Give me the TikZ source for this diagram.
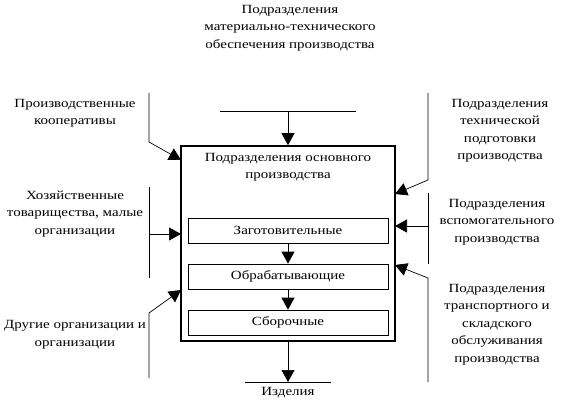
\documentclass[tikz,border=0pt]{standalone}
\usepackage{fontspec}
\setmainfont{Liberation Serif}[FakeStretch=1.2]
\usetikzlibrary{arrows.meta}
\begin{document}
\begin{tikzpicture}[x=1pt, y=-1pt,
  every node/.style={font=\fontsize{12.5}{17.5}\selectfont, align=center, inner sep=0pt},
  mainbox/.style={draw, line width=1.6pt, minimum width=214pt, minimum height=195pt},
  unit/.style={draw, line width=0.7pt, minimum width=200pt, minimum height=25pt},
  arrow/.style={-{Triangle[length=12pt,width=13pt]}, line width=0.7pt},
  bar/.style={line width=0.7pt}
]
\useasboundingbox (0,0) rectangle (569,404);
% main unit with its departments
\node[mainbox] (main) at (288,243.5) {};
\node (maintitle) at (288,167) {Подразделения основного\\производства};
\node[unit] (prep) at (288,230.5) {Заготовительные};
\node[unit] (proc) at (288,276.5) {Обрабатывающие};
\node[unit] (asm) at (288,322.5) {Сборочные};
\draw[arrow] (prep) -- (proc);
\draw[arrow] (proc) -- (asm);
% supply from above
\node (supply) at (290,28) {Подразделения\\материально-технического\\обеспечения производства};
\coordinate (supL) at (220,111);
\coordinate (supR) at (356,111);
\coordinate (supM) at (288,111);
\draw[bar] (supL) -- (supR);
\draw[arrow] (supM) -- (main.north);
% output below
\coordinate (outL) at (245,382);
\coordinate (outR) at (331,382);
\coordinate (outM) at (288,382);
\draw[bar] (outL) -- (outR);
\draw[arrow] (main.south) -- (outM);
\node (product) at (288,393) {Изделия};
% left side
\node (coop) at (75,113) {Производственные\\кооперативы};
\coordinate (coopT) at (149,93);
\coordinate (coopB) at (149,142);
\coordinate (coopIn) at (181,160);
\draw[arrow] (coopT) -- (coopB) -- (coopIn);
\node (partner) at (75,214) {Хозяйственные\\товарищества, малые\\организации};
\coordinate (partT) at (149,187);
\coordinate (partB) at (149,278);
\coordinate (partM) at (149,234);
\coordinate (partIn) at (181,234);
\draw[bar] (partT) -- (partB);
\draw[arrow] (partM) -- (partIn);
\node (other) at (75,334.5) {Другие организации и\\организации};
\coordinate (othB) at (149,378);
\coordinate (othT) at (149,313);
\coordinate (othIn) at (181,290);
\draw[arrow] (othB) -- (othT) -- (othIn);
% right side
\node (tech) at (500,130.5) {Подразделения\\технической\\подготовки\\производства};
\coordinate (techT) at (428,93);
\coordinate (techB) at (428,180);
\coordinate (techIn) at (395,194);
\draw[arrow] (techT) -- (techB) -- (techIn);
\node (aux) at (497,222) {Подразделения\\вспомогательного\\производства};
\coordinate (auxT) at (428,193);
\coordinate (auxB) at (428,264);
\coordinate (auxM) at (428,226);
\coordinate (auxIn) at (395,226);
\draw[bar] (auxT) -- (auxB);
\draw[arrow] (auxM) -- (auxIn);
\node (trans) at (497,324.5) {Подразделения\\транспортного и\\складского\\обслуживания\\производства};
\coordinate (trB) at (428,382);
\coordinate (trT) at (428,278);
\coordinate (trIn) at (395,265);
\draw[arrow] (trB) -- (trT) -- (trIn);
\end{tikzpicture}
\end{document}
